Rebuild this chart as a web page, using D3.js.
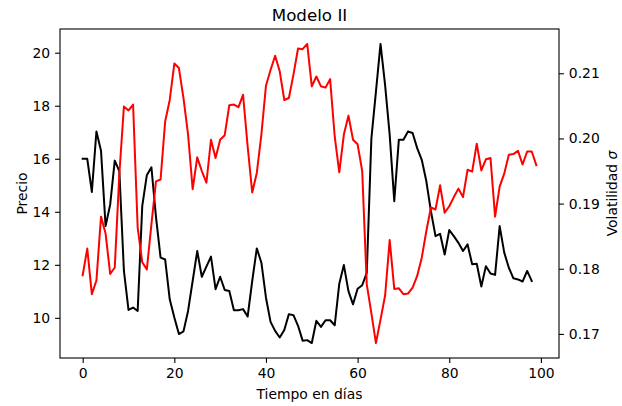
<!DOCTYPE html>
<html>
<head>
<meta charset="utf-8">
<script src="https://cdn.jsdelivr.net/npm/d3@7"></script>
<style>
  html, body { margin: 0; padding: 0; background: #fff; }
  svg { display: block; font-family: "DejaVu Sans", sans-serif; }
</style>
</head>
<body>
<div id="chart"></div>
<script>
// Precio (black), days 0..98
const precio = [
  16.0, 16.0, 14.75, 17.03, 16.3, 13.46, 14.27, 15.93, 15.53, 11.77,
  10.3, 10.39, 10.26, 14.21, 15.38, 15.68, 13.8, 12.27, 12.2, 10.7,
  10.01, 9.39, 9.49, 10.26, 11.39, 12.52, 11.55, 11.93, 12.31, 11.08,
  11.55, 11.05, 11.01, 10.29, 10.29, 10.33, 10.05, 11.39, 12.62, 12.08,
  10.76, 9.85, 9.51, 9.26, 9.54, 10.14, 10.1, 9.7, 9.14, 9.16,
  9.05, 9.89, 9.66, 9.91, 9.91, 9.72, 11.29, 11.99, 11.01, 10.51,
  11.1, 11.23, 11.7, 16.75, 18.53, 20.33, 18.78, 16.9, 14.4, 16.72,
  16.72, 17.03, 16.97, 16.4, 15.96, 15.15, 14.02, 13.08, 13.17, 12.39,
  13.31, 13.08, 12.83, 12.52, 12.77, 12.02, 12.04, 11.18, 11.95, 11.67,
  11.62, 13.46, 12.46, 11.89, 11.49, 11.45, 11.37, 11.77, 11.39
];
// Volatilidad sigma (red), days 0..99
const volatilidad = [
  0.1790, 0.1831, 0.1761, 0.1782, 0.1880, 0.1854, 0.1792, 0.1802, 0.1945, 0.2049,
  0.2043, 0.2052, 0.1863, 0.1810, 0.1799, 0.1868, 0.1934, 0.1937, 0.2026, 0.2059,
  0.2115, 0.2108, 0.2062, 0.2006, 0.1922, 0.1971, 0.1950, 0.1932, 0.1998, 0.1970,
  0.1998, 0.2005, 0.2051, 0.2052, 0.2048, 0.2067, 0.1988, 0.1917, 0.1947, 0.2006,
  0.2081, 0.2105, 0.2127, 0.2103, 0.2059, 0.2062, 0.2098, 0.2138, 0.2137, 0.2145,
  0.2080, 0.2095, 0.2080, 0.2078, 0.2091, 0.2003, 0.1948, 0.2006, 0.2035, 0.1998,
  0.1991, 0.1950, 0.1776, 0.1732, 0.1686, 0.1722, 0.1759, 0.1844, 0.1769, 0.1770,
  0.1761, 0.1762, 0.1771, 0.1789, 0.1817, 0.1858, 0.1894, 0.1891, 0.1928, 0.1886,
  0.1896, 0.1910, 0.1923, 0.1910, 0.1952, 0.1949, 0.1992, 0.1951, 0.1968, 0.1970,
  0.1880, 0.1926, 0.1946, 0.1975, 0.1976, 0.1981, 0.1960, 0.1980, 0.1980, 0.1959
];
const xTicks = [0, 20, 40, 60, 80, 100];
const yLeftTicks = [10, 12, 14, 16, 18, 20];
const yRightTicks = [0.17, 0.18, 0.19, 0.20, 0.21];
const titleText = "Modelo II";
const xLabel = "Tiempo en días";
const yLeftLabel = "Precio";

const W = 622, H = 406;
const m = { left: 60, right: 622 - 559, top: 29, bottom: 406 - 358 };
const pw = W - m.left - m.right, ph = H - m.top - m.bottom;

function padded(ext) { const d = (ext[1] - ext[0]) * 0.05; return [ext[0] - d, ext[1] + d]; }

const xMax = Math.max(precio.length, volatilidad.length) - 1;
const x = d3.scaleLinear().domain(padded([0, xMax])).range([m.left, m.left + pw]);
const yL = d3.scaleLinear().domain(padded(d3.extent(precio))).range([m.top + ph, m.top]);
const yR = d3.scaleLinear().domain(padded(d3.extent(volatilidad))).range([m.top + ph, m.top]);

const svg = d3.select("#chart").append("svg").attr("width", W).attr("height", H);
svg.append("rect").attr("width", W).attr("height", H).attr("fill", "#fff");

const lineL = d3.line().x((d, i) => x(i)).y(d => yL(d));
const lineR = d3.line().x((d, i) => x(i)).y(d => yR(d));

const clip = svg.append("clipPath").attr("id", "clip").append("rect")
  .attr("x", m.left).attr("y", m.top).attr("width", pw).attr("height", ph);

svg.append("path").datum(precio).attr("d", lineL)
  .attr("fill", "none").attr("stroke", "#000").attr("stroke-width", 2)
  .attr("stroke-linejoin", "round").attr("stroke-linecap", "square")
  .attr("clip-path", "url(#clip)");
svg.append("path").datum(volatilidad).attr("d", lineR)
  .attr("fill", "none").attr("stroke", "#ff0000").attr("stroke-width", 2)
  .attr("stroke-linejoin", "round").attr("stroke-linecap", "square")
  .attr("clip-path", "url(#clip)");

const fs = 13.9;
function styleAxis(g) {
  g.select(".domain").remove();
  g.selectAll(".tick line").attr("stroke", "#000").attr("stroke-width", 1.1);
  g.selectAll(".tick text").attr("fill", "#000").attr("font-size", fs)
    .attr("font-family", "DejaVu Sans, sans-serif");
}

svg.append("g").attr("transform", `translate(0,${m.top + ph})`)
  .call(d3.axisBottom(x).tickValues(xTicks).tickFormat(d3.format("d")).tickSize(4.9).tickPadding(4.9))
  .call(styleAxis);
svg.append("g").attr("transform", `translate(${m.left},0)`)
  .call(d3.axisLeft(yL).tickValues(yLeftTicks).tickFormat(d3.format("d")).tickSize(4.9).tickPadding(4.9))
  .call(styleAxis);
svg.append("g").attr("transform", `translate(${m.left + pw},0)`)
  .call(d3.axisRight(yR).tickValues(yRightTicks).tickFormat(d3.format(".2f")).tickSize(4.9).tickPadding(4.9))
  .call(styleAxis);

svg.append("rect").attr("x", m.left).attr("y", m.top).attr("width", pw).attr("height", ph)
  .attr("fill", "none").attr("stroke", "#000").attr("stroke-width", 1.1);

svg.append("text").attr("x", m.left + pw / 2).attr("y", 21).attr("text-anchor", "middle")
  .attr("font-size", 16.7).attr("fill", "#000").text(titleText);
svg.append("text").attr("x", m.left + pw / 2).attr("y", 399).attr("text-anchor", "middle")
  .attr("font-size", fs).attr("fill", "#000").text(xLabel);
svg.append("text").attr("transform", `translate(27,${m.top + ph / 2}) rotate(-90)`)
  .attr("text-anchor", "middle").attr("font-size", fs).attr("fill", "#000").text(yLeftLabel);
const rl = svg.append("text").attr("transform", `translate(617,${m.top + ph / 2}) rotate(-90)`)
  .attr("text-anchor", "middle").attr("font-size", fs).attr("fill", "#000");
rl.append("tspan").text("Volatilidad ");
rl.append("tspan").attr("font-style", "italic").text("σ");
</script>
</body>
</html>
